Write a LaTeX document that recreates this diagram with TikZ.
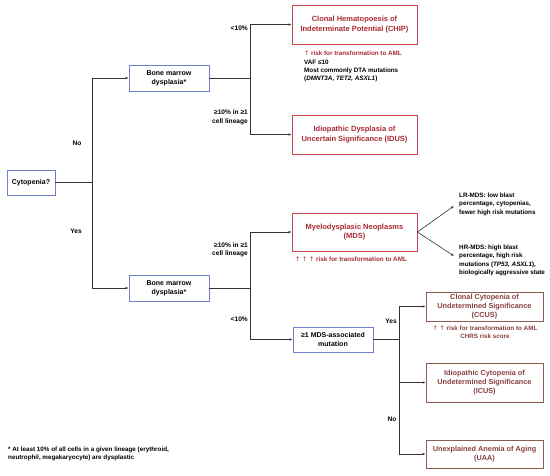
\documentclass[tikz,border=0pt]{standalone}
\usepackage{fontspec}
\setmainfont{Liberation Sans}
\newfontfamily\symf{DejaVu Sans}
\newcommand{\upa}{{\symf\mdseries ↑}}
\usetikzlibrary{arrows.meta}
\definecolor{bluebd}{HTML}{6F7FCC}
\definecolor{redbd}{HTML}{C4454F}
\definecolor{redtx}{HTML}{A82A35}
\definecolor{brnbd}{HTML}{8C5C52}
\definecolor{brntx}{HTML}{8A3F3F}
\definecolor{linec}{HTML}{333333}
\tikzset{
  box/.style={draw, line width=0.8pt, align=center, inner sep=1pt,
    font=\fontsize{7}{8.8}\selectfont\bfseries},
  bluebox/.style={box, draw=bluebd, text=black},
  redbox/.style={box, draw=redbd, text=redtx, font=\fontsize{7.5}{9.2}\selectfont\bfseries},
  brnbox/.style={box, draw=brnbd, text=brntx, font=\fontsize{7.3}{9}\selectfont\bfseries},
  conn/.style={draw=linec, line width=0.6pt},
  arr/.style={conn, -{Latex[length=3pt,width=2.4pt]}},
  lbl/.style={font=\fontsize{6.6}{8.6}\selectfont\bfseries, inner sep=0pt},
  small/.style={font=\fontsize{6.3}{8.4}\selectfont\bfseries, inner sep=0pt},
}
\begin{document}
\begin{tikzpicture}[x=1pt,y=-1pt]
\useasboundingbox (0,0) rectangle (550,475);
\fill[white] (0,0) rectangle (550,475);
% boxes
\node[bluebox, minimum width=48pt, minimum height=25pt] (cyto) at (31,182.5) {Cytopenia?};
\node[bluebox, minimum width=80pt, minimum height=26pt] (bm1) at (169,78) {Bone marrow\\dysplasia*};
\node[bluebox, minimum width=80pt, minimum height=26pt] (bm2) at (169,288) {Bone marrow\\dysplasia*};
\node[redbox, minimum width=125pt, minimum height=39pt] (chip) at (354.5,24.5) {Clonal Hematopoesis of\\Indeterminate Potential (CHIP)};
\node[redbox, minimum width=125pt, minimum height=39pt] (idus) at (354.5,134.5) {Idiopathic Dysplasia of\\Uncertain Significance (IDUS)};
\node[redbox, minimum width=125pt, minimum height=38pt] (mds) at (354.5,232) {Myelodysplasic Neoplasms\\(MDS)};
\node[bluebox, minimum width=80pt, minimum height=25pt] (mut) at (333,339.5) {≥1 MDS-associated\\mutation};
\node[brnbox, minimum width=117pt, minimum height=29pt, inner sep=0.5pt] (ccus) at (484.5,306.5) {Clonal Cytopenia of\\Undetermined Significance\\(CCUS)};
\node[brnbox, minimum width=117pt, minimum height=39pt] (icus) at (484.5,382.5) {Idiopathic Cytopenia of\\Undetermined Significance\\(ICUS)};
\node[brnbox, minimum width=117pt, minimum height=28pt] (uaa) at (484.5,454) {Unexplained Anemia of Aging\\(UAA)};
% junctions
\coordinate (j1) at (92,182.5);
\coordinate (j2) at (250,78);
\coordinate (j3) at (250,288);
\coordinate (j4) at (399,339.5);
\coordinate (lrpt) at (454,206);
\coordinate (hrpt) at (454,256);
% connectors
\draw[conn] (cyto.east) -- (j1);
\draw[arr] (j1) |- (bm1.west);
\draw[arr] (j1) |- (bm2.west);
\draw[conn] (bm1.east) -- (j2);
\draw[arr] (j2) |- (chip.west);
\draw[arr] (j2) |- (idus.west);
\draw[conn] (bm2.east) -- (j3);
\draw[arr] (j3) |- (mds.west);
\draw[arr] (j3) |- (mut.west);
\draw[conn] (mut.east) -- (j4);
\draw[arr] (j4) |- (ccus.west);
\draw[arr] (j4) |- (icus.west);
\draw[arr] (j4) |- (uaa.west);
\draw[arr] (mds.east) -- (lrpt);
\draw[arr] (mds.east) -- (hrpt);
% branch labels
\node[lbl] (no1) at (77,143) {No};
\node[lbl] (yes1) at (76,231) {Yes};
\node[lbl, anchor=east] (lt1) at (248,28.5) {<10\%};
\node[lbl, anchor=east, align=right] (ge1) at (248,117.5) {≥10\% in ≥1\\cell lineage};
\node[lbl, anchor=east, align=right] (ge2) at (248,250) {≥10\% in ≥1\\cell lineage};
\node[lbl, anchor=east] (lt2) at (248,319) {<10\%};
\node[lbl] (yes2) at (391,321) {Yes};
\node[lbl] (no2) at (392,419) {No};
% annotations
\node[small, text=redtx] (r1) at (353,53) {\upa{} risk for transformation to AML};
\node[small, anchor=north west, align=left] (vaf) at (304,59.5) {VAF ≤10\\Most commonly DTA mutations\\(\textit{DMNT3A, TET2, ASXL1})};
\node[small, text=redtx] (r2) at (351,259) {\upa{} \upa{} \upa{} risk for transformation to AML};
\node[small, anchor=north west, align=left] (lr) at (459,192.5) {LR-MDS: low blast\\percentage, cytopenias,\\fewer high risk mutations};
\node[small, anchor=north west, align=left] (hr) at (459,244.5) {HR-MDS: high blast\\percentage, high risk\\mutations (\textit{TP53, ASXL1}),\\biologically aggressive state};
\node[small, text=brntx, align=center, anchor=north] (r3) at (485,325.5) {\upa{} \upa{} risk for transformation to AML\\CHRS risk score};
\node[small, anchor=north west, align=left] (fn) at (8,446.5) {* At least 10\% of all cells in a given lineage (erythroid,\\neutrophil, megakaryocyte) are dysplastic};
\end{tikzpicture}
\end{document}
